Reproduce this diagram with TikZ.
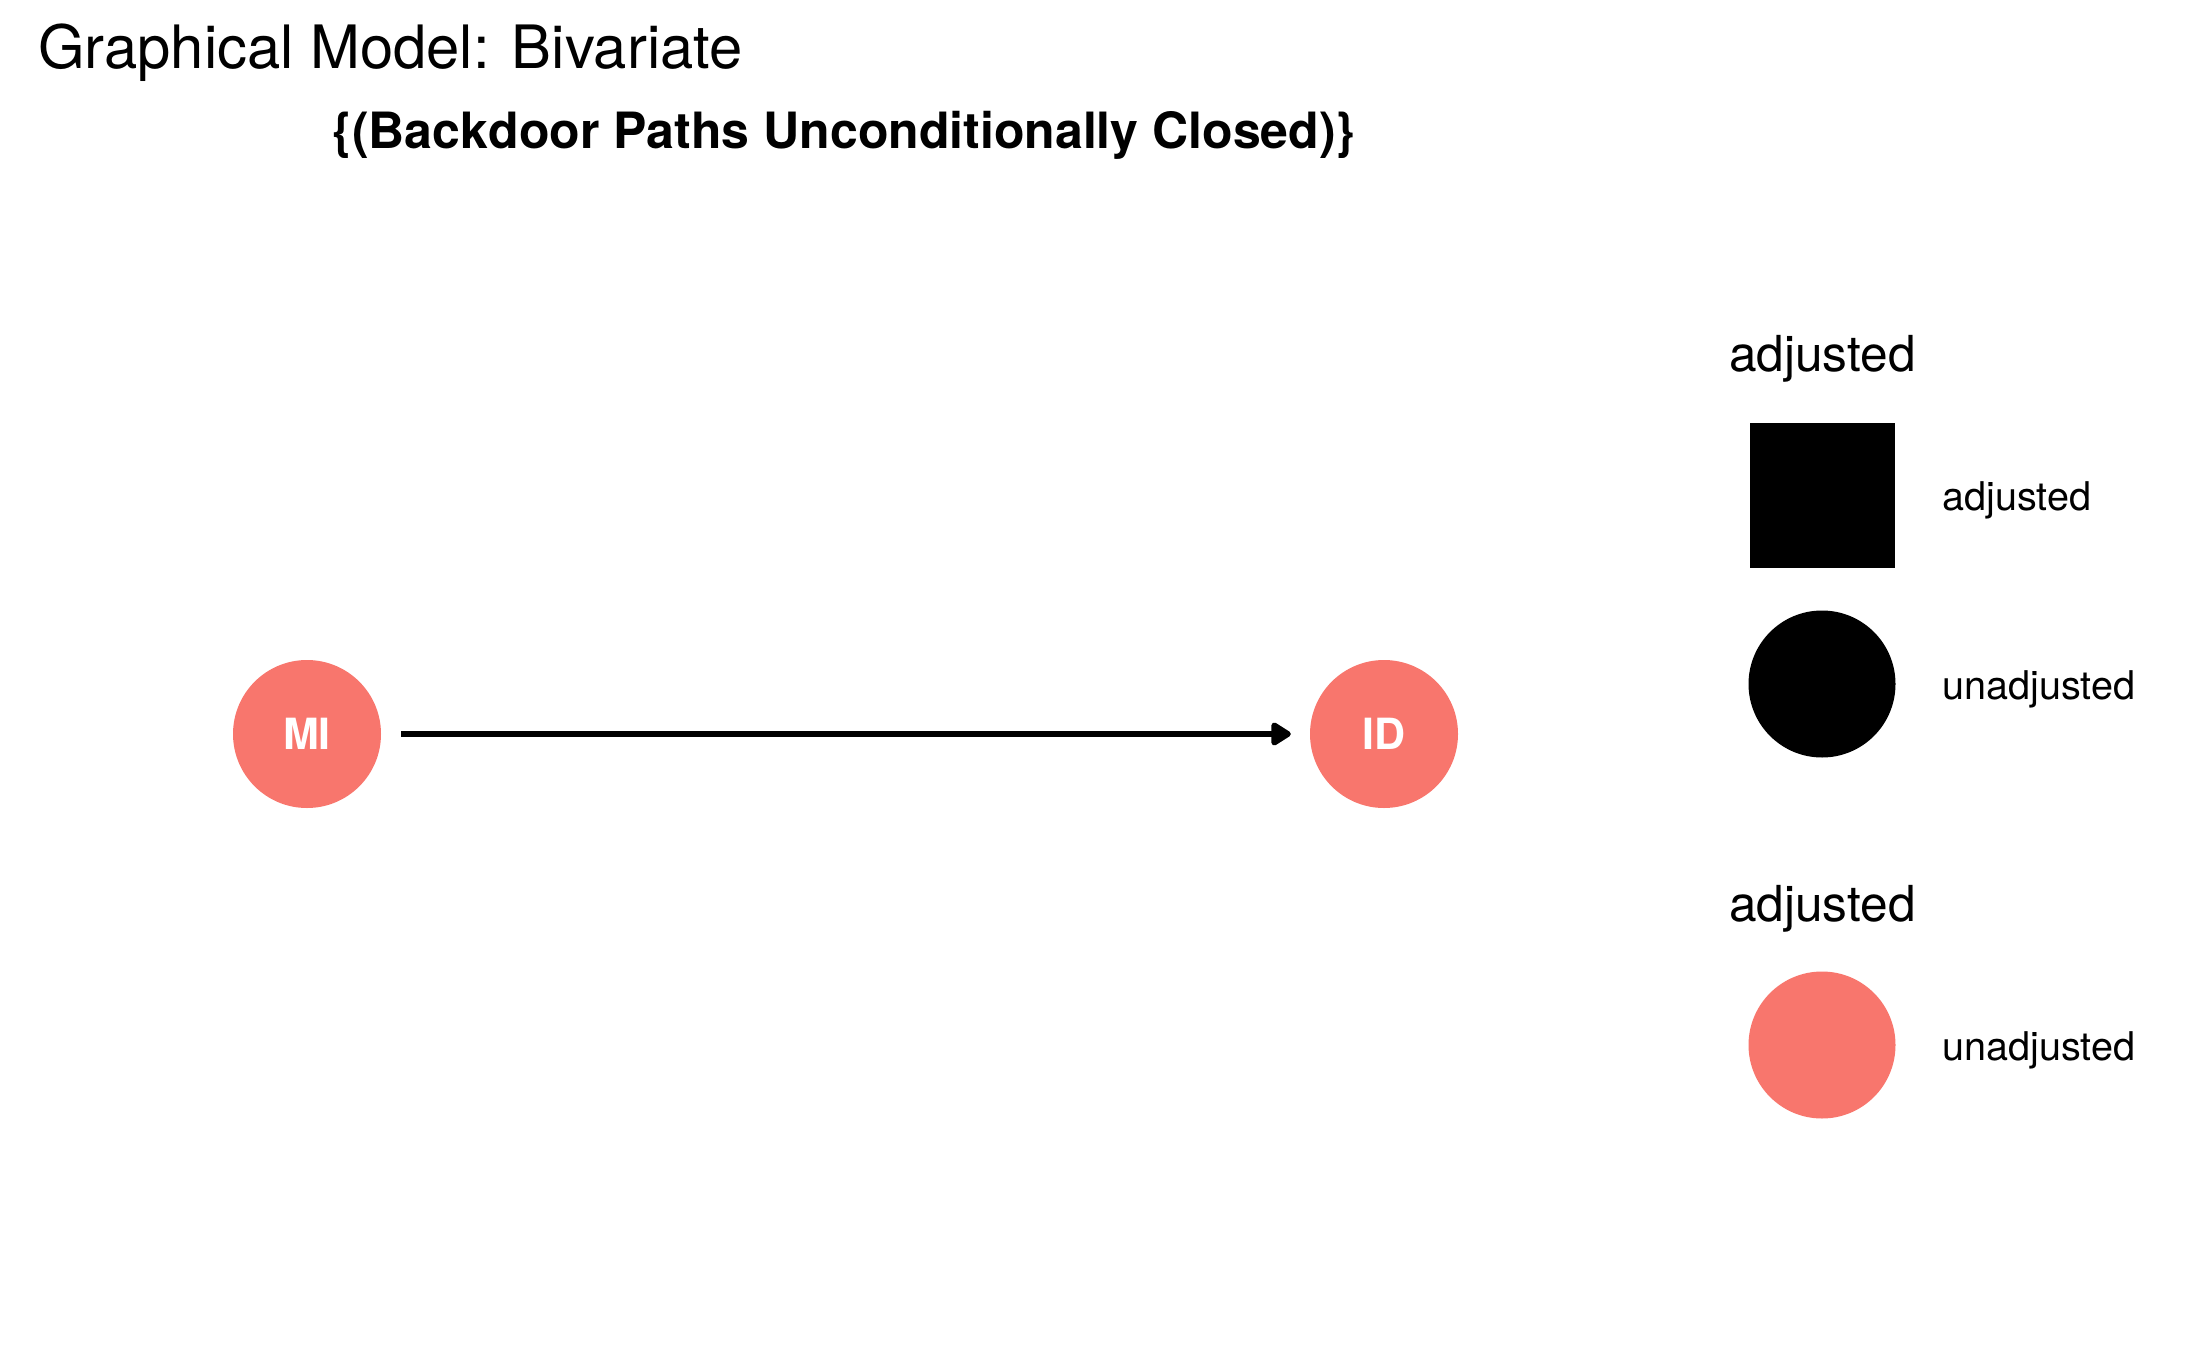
\documentclass[tikz,border=0pt]{standalone}
\usepackage{fontspec}
\setmainfont{TeX Gyre Heros}
\usetikzlibrary{arrows.meta}
\definecolor{salmon}{HTML}{F8766D}
\begin{document}
\begin{tikzpicture}[x=1pt,y=-1pt,
  dagnode/.style={circle,fill=salmon,draw=none,minimum size=148pt,inner sep=0pt,text=white,font=\fontsize{43}{43}\selectfont\bfseries},
  legtitle/.style={anchor=base west,inner sep=0pt,font=\fontsize{49.6}{49.6}\selectfont},
  leglabel/.style={anchor=base west,inner sep=0pt,font=\fontsize{39.6}{39.6}\selectfont},
  edge/.style={line width=5.5pt,-{Triangle[length=22pt,width=26pt,round]},shorten <=20pt,shorten >=19pt}
]
\useasboundingbox[fill=white] (0,0) rectangle (2187,1351);
\node[anchor=base west,inner sep=0pt,font=\fontsize{59.8}{59.8}\selectfont] (title) at (38,69) {Graphical Model: Bivariate};
\node[anchor=base,inner sep=0pt,font=\fontsize{50}{50}\selectfont\bfseries] (subtitle) at (844,149) {\{(Backdoor Paths Unconditionally Closed)\}};
\node[dagnode] (MI) at (307,734) {MI};
\node[dagnode] (ID) at (1384,734) {ID};
\draw[edge] (MI) -- (ID);
% legend 1
\node[legtitle] (lt1) at (1729,371) {adjusted};
\node[fill=black,draw=none,minimum size=145pt,inner sep=0pt] (sq) at (1822,495) {};
\node[leglabel] (l1) at (1942,510) {adjusted};
\node[circle,fill=black,draw=none,minimum size=147pt,inner sep=0pt] (bc) at (1822,684) {};
\node[leglabel] (l2) at (1942,699) {unadjusted};
% legend 2
\node[legtitle] (lt2) at (1729,921) {adjusted};
\node[circle,fill=salmon,draw=none,minimum size=147pt,inner sep=0pt] (sc) at (1822,1045) {};
\node[leglabel] (l3) at (1942,1060) {unadjusted};
\end{tikzpicture}
\end{document}
